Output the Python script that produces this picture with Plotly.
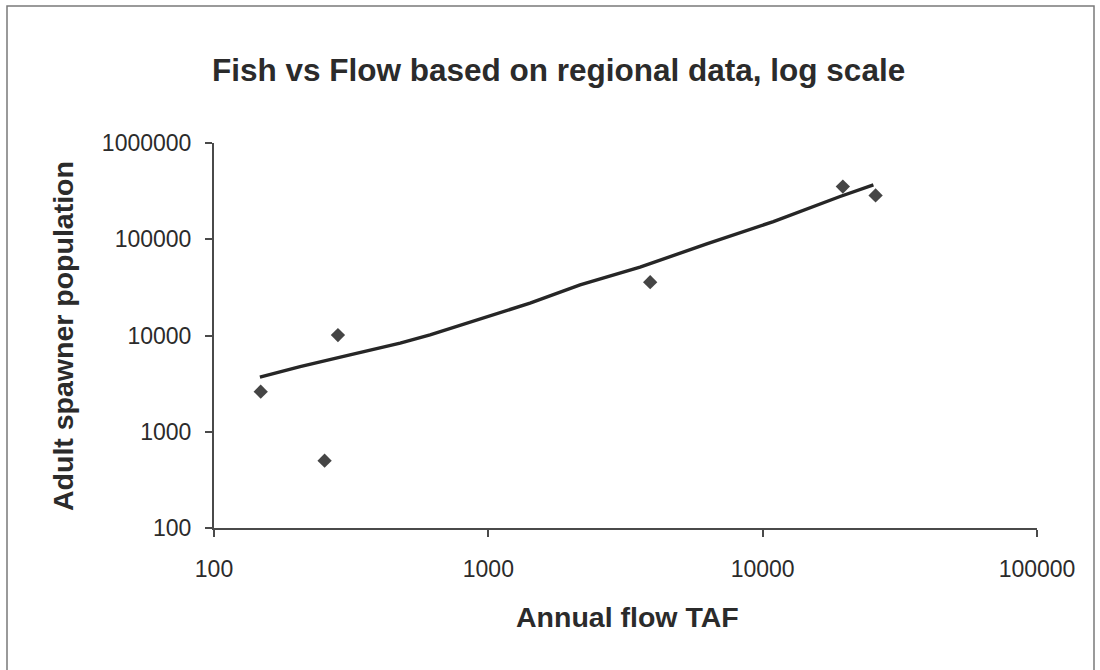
import plotly.graph_objects as go

# Observed data (annual flow in TAF, adult spawner population)
flow_taf = [148, 253, 283, 3890, 19600, 25800]
spawners = [2610, 500, 10100, 35800, 353000, 285000]

# Trend line points
trend_flow = [147, 206, 313, 477, 613, 933, 1419, 2160, 3573, 6255, 10940, 19150, 25330]
trend_pop = [3690, 4750, 6280, 8320, 10150, 14770, 21670, 33570, 51290, 89540, 152800, 277900, 367800]

tick_vals_x = [100, 1000, 10000, 100000]
tick_text_x = ["100", "1000", "10000", "100000"]
tick_vals_y = [100, 1000, 10000, 100000, 1000000]
tick_text_y = ["100", "1000", "10000", "100000", "1000000"]

FONT = "Liberation Sans, Arial, sans-serif"
TXT = "#2b2b2b"
AX = "#4a4a4a"

fig = go.Figure()
fig.add_trace(go.Scatter(
    x=trend_flow, y=trend_pop, mode="lines",
    line=dict(color="#262626", width=3.4), showlegend=False, hoverinfo="skip"))
fig.add_trace(go.Scatter(
    x=flow_taf, y=spawners, mode="markers",
    marker=dict(symbol="diamond", size=11, color="#454545"),
    showlegend=False))

fig.update_layout(
    width=1100, height=670,
    margin=dict(l=214, r=63, t=143, b=142),
    paper_bgcolor="white", plot_bgcolor="white",
    font=dict(family=FONT, color=TXT),
    xaxis=dict(type="log", range=[2, 5], tickvals=tick_vals_x, ticktext=tick_text_x,
               showgrid=False, zeroline=False, showline=True, linecolor=AX, linewidth=2,
               ticks="outside", ticklen=7, tickwidth=2, tickcolor=AX,
               tickfont=dict(size=23, color=TXT, family=FONT), ticklabelstandoff=12),
    yaxis=dict(type="log", range=[2, 6], tickvals=tick_vals_y, ticktext=tick_text_y,
               showgrid=False, zeroline=False, showline=True, linecolor=AX, linewidth=2,
               ticks="outside", ticklen=7, tickwidth=2, tickcolor=AX,
               tickfont=dict(size=23, color=TXT, family=FONT), ticklabelstandoff=9),
    shapes=[dict(type="rect", xref="paper", yref="paper",
                 x0=(7 - 214) / 823, x1=(1094 - 214) / 823,
                 y0=(528 - 700) / 385, y1=(528 - 6) / 385,
                 line=dict(color="#7a7a7a", width=1.5), fillcolor="rgba(0,0,0,0)", layer="below")],
    annotations=[
        dict(text="<b>Fish vs Flow based on regional data, log scale</b>",
             xref="paper", yref="paper", x=(558 - 214) / 823, y=(528 - 70) / 385,
             xanchor="center", yanchor="middle", showarrow=False,
             font=dict(size=31.5, color=TXT, family=FONT)),
        dict(text="<b>Annual flow TAF</b>",
             xref="paper", yref="paper", x=(627 - 214) / 823, y=(528 - 617) / 385,
             xanchor="center", yanchor="middle", showarrow=False,
             font=dict(size=28.5, color=TXT, family=FONT)),
        dict(text="<b>Adult spawner population</b>",
             xref="paper", yref="paper", x=(63 - 214) / 823, y=(528 - 336) / 385,
             xanchor="center", yanchor="middle", showarrow=False, textangle=-90,
             font=dict(size=28.5, color=TXT, family=FONT)),
    ],
)

fig.write_html("out.html", config={"displayModeBar": False},
               post_script="document.body.style.margin='0';document.body.style.padding='0';")
